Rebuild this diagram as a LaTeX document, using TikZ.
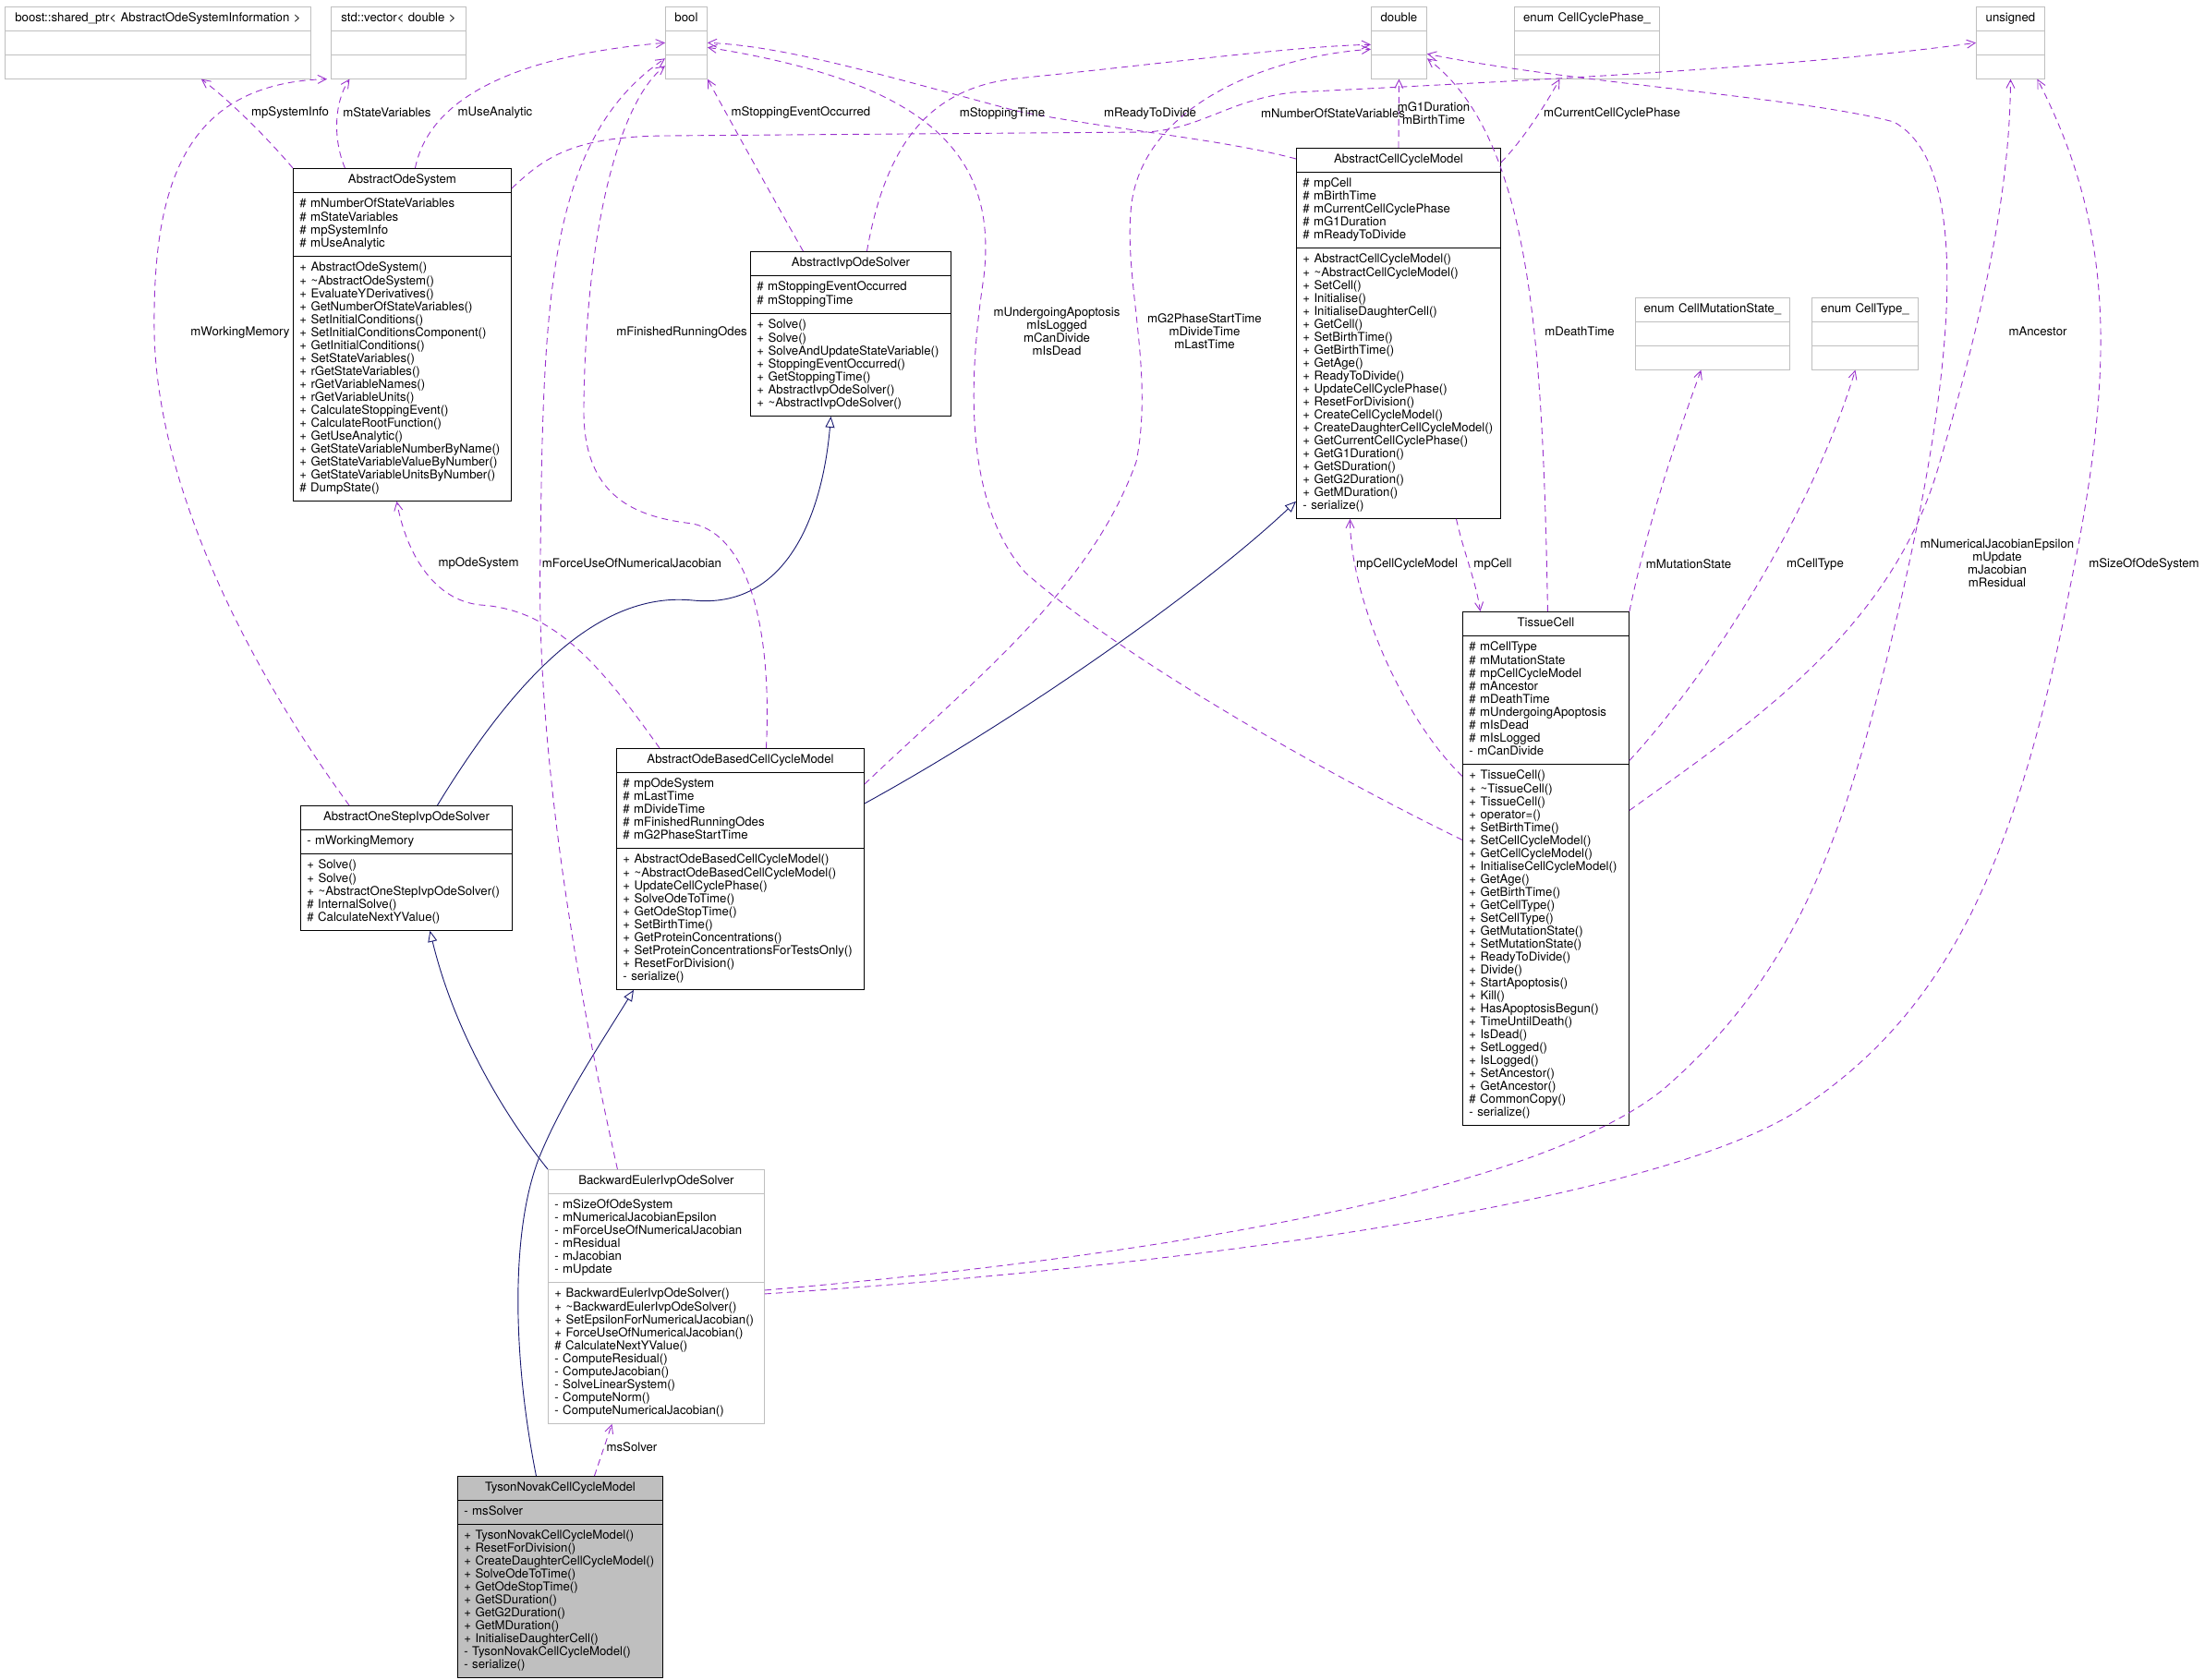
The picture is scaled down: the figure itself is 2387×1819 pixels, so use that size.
\documentclass[tikz,border=0pt]{standalone}
\usepackage{fontspec}
\newfontfamily\umlfont{TeX Gyre Heros}
\usetikzlibrary{arrows.meta,positioning,shapes.multipart}
\definecolor{usecol}{HTML}{9A32CD}
\definecolor{inhcol}{HTML}{191970}
\definecolor{extgray}{HTML}{BFBFBF}
\hyphenpenalty=10000
\exhyphenpenalty=10000
\newcommand\clsname[1]{\hbox to\hsize{\hfil\strut#1\hfil}}

\begin{document}
\begin{tikzpicture}[x=1pt, y=-1pt,
  every node/.style={font=\umlfont\fontsize{13.2}{14}\selectfont},
  cls/.style={rectangle split, rectangle split parts=3, draw, line width=0.9pt, anchor=north west,
    align=left, inner xsep=7pt, inner ysep=5.5pt},
  ext/.style={cls, draw=extgray},
  lbl/.style={align=center, inner sep=0pt},
  use/.style={draw=usecol, line width=0.9pt, dash pattern=on 7pt off 5pt, -{Straight Barb[length=9pt,width=9pt]}},
  inh/.style={draw=inhcol, line width=0.9pt, -{Triangle[open,length=12pt,width=10pt]}}]
\useasboundingbox (0,0) rectangle (2387,1819);

% plain types along the top
\node[ext, text width=317pt] (boost) at (5,7) {\clsname{boost::shared\_ptr< AbstractOdeSystemInformation >}\nodepart{second}\strut\nodepart{third}\strut};
\node[ext, text width=132pt] (vec) at (358,7) {\clsname{std::vector< double >}\nodepart{second}\strut\nodepart{third}\strut};
\node[ext, text width=31pt] (bool) at (720,7) {\clsname{bool}\nodepart{second}\strut\nodepart{third}\strut};
\node[ext, text width=46pt] (dbl) at (1484,7) {\clsname{double}\nodepart{second}\strut\nodepart{third}\strut};
\node[ext, text width=143pt] (ccp) at (1639,7) {\clsname{enum CellCyclePhase\_}\nodepart{second}\strut\nodepart{third}\strut};
\node[ext, text width=60pt] (uns) at (2139,7) {\clsname{unsigned}\nodepart{second}\strut\nodepart{third}\strut};
\node[ext, text width=153pt] (cms) at (1770,322) {\clsname{enum CellMutationState\_}\nodepart{second}\strut\nodepart{third}\strut};
\node[ext, text width=101pt] (ctype) at (1961,322) {\clsname{enum CellType\_}\nodepart{second}\strut\nodepart{third}\strut};

% classes
\node[cls, text width=222pt] (aos) at (317,182) {\clsname{AbstractOdeSystem}
  \nodepart{second}\strut\#~mNumberOfStateVariables\\\#~mStateVariables\\\#~mpSystemInfo\\\#~mUseAnalytic\strut
  \nodepart{third}\strut+~AbstractOdeSystem()\\+~\textasciitilde AbstractOdeSystem()\\+~EvaluateYDerivatives()\\+~GetNumberOfStateVariables()\\+~SetInitialConditions()\\+~SetInitialConditionsComponent()\\+~GetInitialConditions()\\+~SetStateVariables()\\+~rGetStateVariables()\\+~rGetVariableNames()\\+~rGetVariableUnits()\\+~CalculateStoppingEvent()\\+~CalculateRootFunction()\\+~GetUseAnalytic()\\+~GetStateVariableNumberByName()\\+~GetStateVariableValueByNumber()\\+~GetStateVariableUnitsByNumber()\\\#~DumpState()\strut};
\node[cls, text width=203pt] (ivp) at (812,272) {\clsname{AbstractIvpOdeSolver}
  \nodepart{second}\strut\#~mStoppingEventOccurred\\\#~mStoppingTime\strut
  \nodepart{third}\strut+~Solve()\\+~Solve()\\+~SolveAndUpdateStateVariable()\\+~StoppingEventOccurred()\\+~GetStoppingTime()\\+~AbstractIvpOdeSolver()\\+~\textasciitilde AbstractIvpOdeSolver()\strut};
\node[cls, text width=207pt] (accm) at (1403,160) {\clsname{AbstractCellCycleModel}
  \nodepart{second}\strut\#~mpCell\\\#~mBirthTime\\\#~mCurrentCellCyclePhase\\\#~mG1Duration\\\#~mReadyToDivide\strut
  \nodepart{third}\strut+~AbstractCellCycleModel()\\+~\textasciitilde AbstractCellCycleModel()\\+~SetCell()\\+~Initialise()\\+~InitialiseDaughterCell()\\+~GetCell()\\+~SetBirthTime()\\+~GetBirthTime()\\+~GetAge()\\+~ReadyToDivide()\\+~UpdateCellCyclePhase()\\+~ResetForDivision()\\+~CreateCellCycleModel()\\+~CreateDaughterCellCycleModel()\\+~GetCurrentCellCyclePhase()\\+~GetG1Duration()\\+~GetSDuration()\\+~GetG2Duration()\\+~GetMDuration()\\-~serialize()\strut};
\node[cls, text width=166pt] (tissue) at (1583,662) {\clsname{TissueCell}
  \nodepart{second}\strut\#~mCellType\\\#~mMutationState\\\#~mpCellCycleModel\\\#~mAncestor\\\#~mDeathTime\\\#~mUndergoingApoptosis\\\#~mIsDead\\\#~mIsLogged\\-~mCanDivide\strut
  \nodepart{third}\strut+~TissueCell()\\+~\textasciitilde TissueCell()\\+~TissueCell()\\+~operator=()\\+~SetBirthTime()\\+~SetCellCycleModel()\\+~GetCellCycleModel()\\+~InitialiseCellCycleModel()\\+~GetAge()\\+~GetBirthTime()\\+~GetCellType()\\+~SetCellType()\\+~GetMutationState()\\+~SetMutationState()\\+~ReadyToDivide()\\+~Divide()\\+~StartApoptosis()\\+~Kill()\\+~HasApoptosisBegun()\\+~TimeUntilDeath()\\+~IsDead()\\+~SetLogged()\\+~IsLogged()\\+~SetAncestor()\\+~GetAncestor()\\\#~CommonCopy()\\-~serialize()\strut};
\node[cls, text width=215pt] (onestep) at (325,872) {\clsname{AbstractOneStepIvpOdeSolver}
  \nodepart{second}\strut-~mWorkingMemory\strut
  \nodepart{third}\strut+~Solve()\\+~Solve()\\+~\textasciitilde AbstractOneStepIvpOdeSolver()\\\#~InternalSolve()\\\#~CalculateNextYValue()\strut};
\node[cls, text width=254pt] (odebased) at (667,810) {\clsname{AbstractOdeBasedCellCycleModel}
  \nodepart{second}\strut\#~mpOdeSystem\\\#~mLastTime\\\#~mDivideTime\\\#~mFinishedRunningOdes\\\#~mG2PhaseStartTime\strut
  \nodepart{third}\strut+~AbstractOdeBasedCellCycleModel()\\+~\textasciitilde AbstractOdeBasedCellCycleModel()\\+~UpdateCellCyclePhase()\\+~SolveOdeToTime()\\+~GetOdeStopTime()\\+~SetBirthTime()\\+~GetProteinConcentrations()\\+~SetProteinConcentrationsForTestsOnly()\\+~ResetForDivision()\\-~serialize()\strut};
\node[ext, text width=220pt] (beuler) at (593,1266) {\clsname{BackwardEulerIvpOdeSolver}
  \nodepart{second}\strut-~mSizeOfOdeSystem\\-~mNumericalJacobianEpsilon\\-~mForceUseOfNumericalJacobian\\-~mResidual\\-~mJacobian\\-~mUpdate\strut
  \nodepart{third}\strut+~BackwardEulerIvpOdeSolver()\\+~\textasciitilde BackwardEulerIvpOdeSolver()\\+~SetEpsilonForNumericalJacobian()\\+~ForceUseOfNumericalJacobian()\\\#~CalculateNextYValue()\\-~ComputeResidual()\\-~ComputeJacobian()\\-~SolveLinearSystem()\\-~ComputeNorm()\\-~ComputeNumericalJacobian()\strut};
\node[cls, fill=extgray, text width=208pt] (tyson) at (495,1598) {\clsname{TysonNovakCellCycleModel}
  \nodepart{second}\strut-~msSolver\strut
  \nodepart{third}\strut+~TysonNovakCellCycleModel()\\+~ResetForDivision()\\+~CreateDaughterCellCycleModel()\\+~SolveOdeToTime()\\+~GetOdeStopTime()\\+~GetSDuration()\\+~GetG2Duration()\\+~GetMDuration()\\+~InitialiseDaughterCell()\\-~TysonNovakCellCycleModel()\\-~serialize()\strut};

% inheritance
\draw[inh] ([xshift=33.5pt]onestep.north) .. controls (560,730) and (650,640) .. (750,650) .. controls (850,660) and (890,560) .. ([xshift=-21.5pt]ivp.south);
\draw[inh] ([yshift=-60pt]odebased.north east) .. controls (1100,780) and (1300,640) .. ([yshift=19pt]accm.south west);
\draw[inh] (beuler.north west) .. controls (540,1200) and (490,1110) .. ([xshift=25.5pt]onestep.south);
\draw[inh] ([xshift=-26pt]tyson.north) .. controls (555,1470) and (552,1330) .. (585,1250) .. controls (610,1190) and (650,1130) .. ([xshift=19pt]odebased.south west);

% members
\draw[use] (aos.north west) .. controls (290,150) and (250,110) .. ([xshift=47pt]boost.south);
\draw[use] ([xshift=-62pt]aos.north) .. controls (360,150) and (362,110) .. ([xshift=-53pt]vec.south);
\draw[use] ([xshift=14pt]aos.north) .. controls (465,105) and (560,60) .. (bool.west);
\draw[use] ([yshift=-22pt]aos.north east) .. controls (590,170) and (620,148) .. (720,147) -- (1240,143) .. controls (1300,140) and (1330,108) .. (1400,100) .. controls (1700,85) and (1950,72) .. (uns.west);
\draw[use] ([yshift=-12pt]accm.north west) .. controls (1320,150) and (1200,140) .. (1100,120) .. controls (950,80) and (850,50) .. (bool.east);
\draw[use] ([xshift=-51.5pt]ivp.north) .. controls (840,220) and (790,130) .. (bool.south east);
\draw[use] ([xshift=17.5pt]ivp.north) .. controls (960,150) and (1010,95) .. (1100,85) .. controls (1250,70) and (1400,50) .. ([yshift=-2pt]dbl.west);
\draw[use] ([xshift=28pt]odebased.north) .. controls (836,680) and (810,580) .. (750,567) .. controls (690,560) and (630,540) .. (632,440) .. controls (634,250) and (670,110) .. ([yshift=-25pt]bool.west);
\draw[use] ([xshift=-42pt]beuler.north) .. controls (620,1050) and (580,800) .. (585,600) .. controls (588,330) and (592,150) .. ([yshift=-17pt]bool.west);
\draw[use] ([xshift=47pt]odebased.north west) .. controls (650,720) and (600,660) .. (520,655) .. controls (470,650) and (440,600) .. ([xshift=-6pt]aos.south);
\draw[use] ([xshift=53pt]onestep.north west) .. controls (260,710) and (170,520) .. (167,360) .. controls (165,200) and (200,90) .. ([xshift=-4pt]vec.south west);
\draw[use] ([yshift=-39pt]odebased.north east) .. controls (1050,740) and (1180,640) .. (1230,500) .. controls (1250,400) and (1215,300) .. (1225,220) .. controls (1240,110) and (1380,60) .. ([yshift=-7pt]dbl.west);
\draw[use] ([yshift=31pt]tissue.west) .. controls (1400,820) and (1200,700) .. (1110,620) .. controls (1040,540) and (1050,400) .. (1065,300) .. controls (1080,170) and (1010,90) .. ([yshift=-5pt]bool.east);
\draw[use] ([xshift=2pt]tissue.north) .. controls (1670,380) and (1660,150) .. ([yshift=-17pt]dbl.east);
\draw[use] ([yshift=7pt]beuler.east) .. controls (1200,1365) and (1650,1300) .. (1800,1180) .. controls (1950,1050) and (2000,900) .. (2060,640) .. controls (2110,420) and (2140,180) .. (2050,132) .. controls (1950,105) and (1700,90) .. ([yshift=-12pt]dbl.east);
\draw[use] ([yshift=3pt]beuler.east) .. controls (1300,1370) and (1800,1300) .. (1950,1200) .. controls (2100,1100) and (2180,950) .. (2240,640) .. controls (2290,400) and (2290,250) .. ([xshift=29pt]uns.south);
\draw[use] (tissue.north east) .. controls (1785,560) and (1820,460) .. ([xshift=-12.5pt]cms.south);
\draw[use] ([yshift=117pt]tissue.east) .. controls (1850,730) and (1960,560) .. ([xshift=-10.5pt]ctype.south);
\draw[use] ([yshift=63pt]tissue.east) .. controls (1900,780) and (2050,680) .. (2100,500) .. controls (2150,330) and (2176,200) .. (uns.south);
\draw[use] ([yshift=100pt]tissue.west) .. controls (1520,780) and (1462,650) .. ([xshift=-52.5pt]accm.south);
\draw[use] ([xshift=62.5pt]accm.south) .. controls (1585,600) and (1598,630) .. ([xshift=-71pt]tissue.north);
\draw[use] ([yshift=-16pt]accm.north east) .. controls (1650,150) and (1675,110) .. ([xshift=-29.5pt]ccp.south);
\draw[use] (accm.north) -- (dbl.south);
\draw[use] ([xshift=37pt]tyson.north) -- ([xshift=-48pt]beuler.south);

% member names
\node[lbl] (l-sysinfo) at (314,122) {mpSystemInfo};
\node[lbl] (l-statevars) at (419,122) {mStateVariables};
\node[lbl] (l-analytic) at (536,122) {mUseAnalytic};
\node[lbl] (l-stopevent) at (867,122) {mStoppingEventOccurred};
\node[lbl] (l-stoptime) at (1085,123) {mStoppingTime};
\node[lbl] (l-ready) at (1245,123) {mReadyToDivide};
\node[lbl] (l-numvars) at (1443,123) {mNumberOfStateVariables};
\node[lbl] (l-g1) at (1552,123) {mG1Duration\\mBirthTime};
\node[lbl] (l-phase) at (1745,123) {mCurrentCellCyclePhase};
\node[lbl] (l-workmem) at (260,360) {mWorkingMemory};
\node[lbl] (l-finished) at (738,360) {mFinishedRunningOdes};
\node[lbl] (l-apoptosis) at (1144,359) {mUndergoingApoptosis\\mIsLogged\\mCanDivide\\mIsDead};
\node[lbl] (l-g2) at (1304,359) {mG2PhaseStartTime\\mDivideTime\\mLastTime};
\node[lbl] (l-death) at (1710,359) {mDeathTime};
\node[lbl] (l-ancestor) at (2206,359) {mAncestor};
\node[lbl] (l-odesys) at (518,610) {mpOdeSystem};
\node[lbl] (l-forcejac) at (684,610) {mForceUseOfNumericalJacobian};
\node[lbl] (l-ccmodel) at (1523,611) {mpCellCycleModel};
\node[lbl] (l-cell) at (1616,611) {mpCell};
\node[lbl] (l-mutation) at (1828,611) {mMutationState};
\node[lbl] (l-celltype) at (1965,611) {mCellType};
\node[lbl] (l-jacobian) at (2162,610) {mNumericalJacobianEpsilon\\mUpdate\\mJacobian\\mResidual};
\node[lbl] (l-size) at (2321,611) {mSizeOfOdeSystem};
\node[lbl] (l-solver) at (684,1567) {msSolver};
\end{tikzpicture}
\end{document}
